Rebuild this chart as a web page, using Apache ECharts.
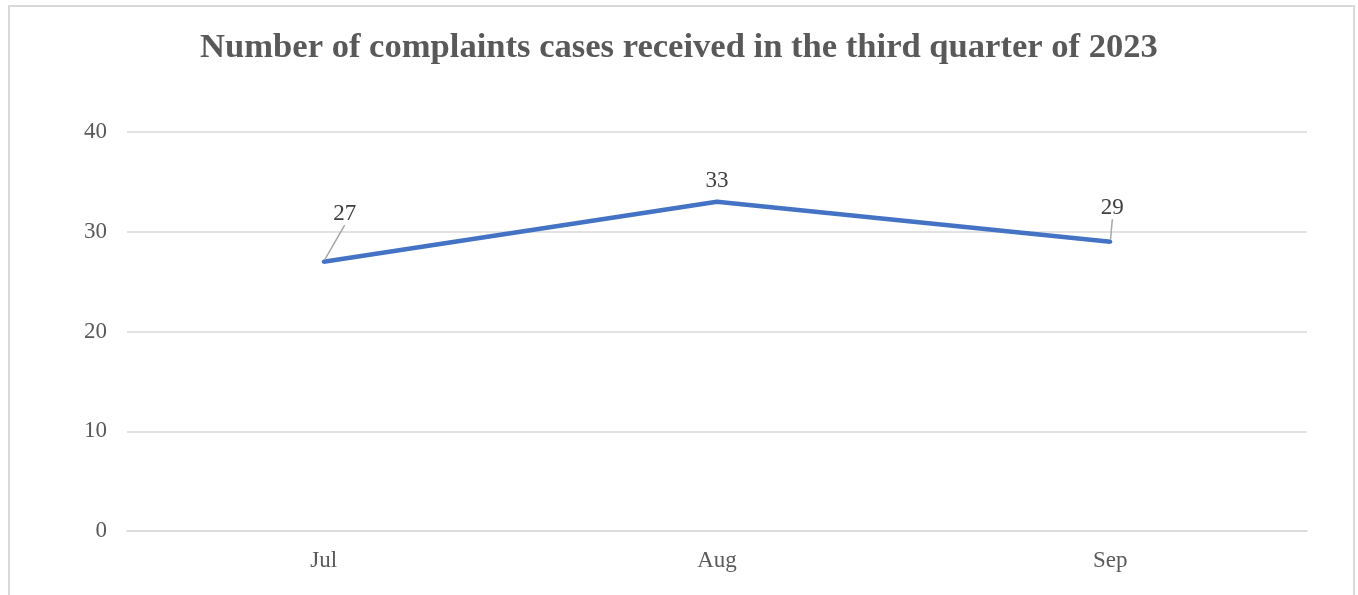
<!DOCTYPE html>
<html>
<head>
<meta charset="utf-8">
<title>Complaints Q3 2023</title>
<script src="https://cdn.jsdelivr.net/npm/echarts@6/dist/echarts.min.js"></script>
<style>
    html, body { margin: 0; padding: 0; background: #fff; }
    #chart { width: 1358px; height: 595px; }
</style>
</head>
<body>
<div id="chart"></div>
<script>
// data
const months = ['Jul', 'Aug', 'Sep'];
const cases = [27, 33, 29];
const yTicks = [0, 10, 20, 30, 40];

// where each value label sits relative to its point (px), and if it gets a leader line
const labelShift = [[21, -48], [0, -21], [2, -34]];
const leader = [true, false, true];

const serif = '"Liberation Serif", "DejaVu Serif", serif';

const chart = echarts.init(document.getElementById('chart'));

chart.setOption({
    backgroundColor: '#fff',
    animation: false,
    title: {
        text: 'Number of complaints cases received in the third quarter of 2023',
        left: 'center',
        top: 26,
        textStyle: {
            fontFamily: serif,
            fontSize: 34.6,
            fontWeight: 'bold',
            color: '#595959'
        }
    },
    // light frame round the chart area
    graphic: [{
        type: 'rect',
        shape: { x: 9, y: 6, width: 1345, height: 700 },
        style: { fill: 'none', stroke: '#d9d9d9', lineWidth: 2 },
        silent: true
    }],
    grid: {
        left: 127,
        right: 51,
        top: 132,
        bottom: 64
    },
    xAxis: {
        type: 'category',
        data: months,
        boundaryGap: true,
        axisLine: { show: true, lineStyle: { color: '#d9d9d9', width: 1.5 } },
        axisTick: { show: false },
        axisLabel: {
            margin: 18,
            fontFamily: serif,
            fontSize: 23,
            color: '#595959'
        }
    },
    yAxis: {
        type: 'value',
        min: yTicks[0],
        max: yTicks[yTicks.length - 1],
        interval: 10,
        axisLine: { show: false },
        axisTick: { show: false },
        splitLine: { lineStyle: { color: '#d9d9d9', width: 1.5 } },
        axisLabel: {
            margin: 20,
            fontFamily: serif,
            fontSize: 23,
            color: '#595959'
        }
    },
    series: [{
        type: 'line',
        data: cases.map((v, i) => ({
            value: v,
            labelLine: { show: leader[i] }
        })),
        symbol: 'circle',
        symbolSize: 4,
        lineStyle: { color: '#4472c4', width: 4.5 },
        itemStyle: { color: '#4472c4' },
        label: {
            show: true,
            position: 'inside',
            fontFamily: serif,
            fontSize: 23,
            color: '#404040'
        },
        labelLine: {
            show: true,
            lineStyle: { color: '#a6a6a6', width: 1.5 }
        },
        labelLayout: function (params) {
            const s = labelShift[params.dataIndex];
            return { dx: s[0], dy: s[1] };
        }
    }]
});
</script>
</body>
</html>
